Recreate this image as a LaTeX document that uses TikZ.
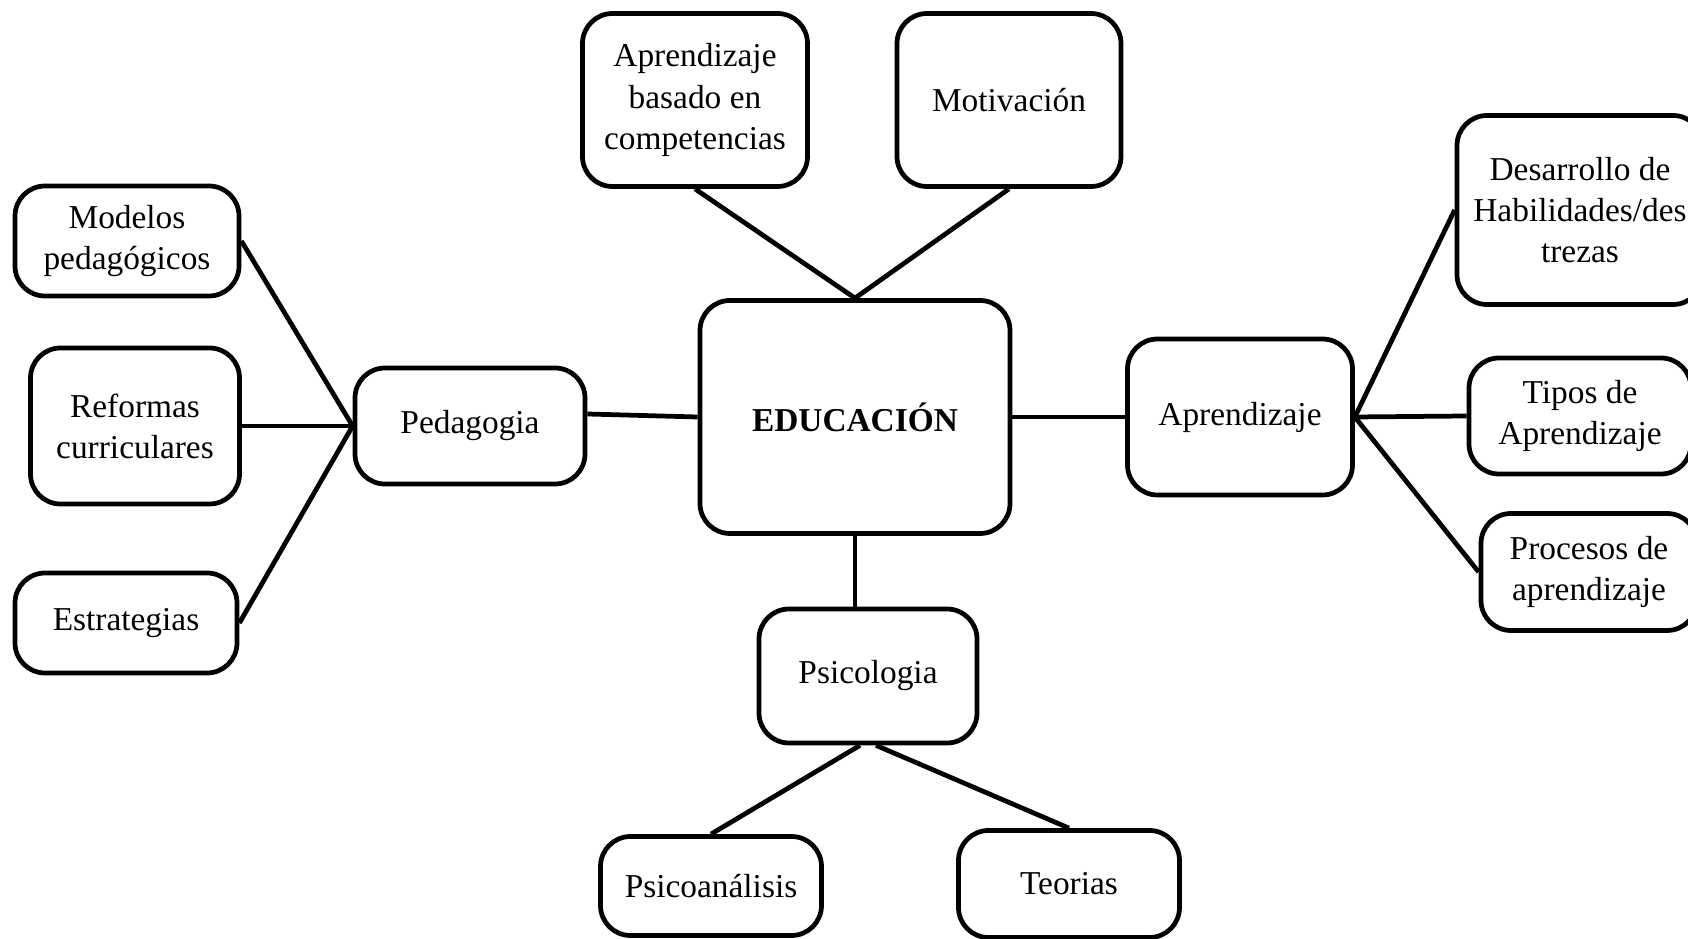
\documentclass[tikz,border=0pt]{standalone}
\usepackage{fontspec}
\setmainfont{Liberation Serif}
\usepackage{tikz}

\begin{document}
\begin{tikzpicture}[
  box/.style={draw,rectangle,rounded corners=0.3cm,line width=1.35pt,align=center,inner sep=2pt,font=\fontsize{9.5}{11.7}\selectfont},
  link/.style={line width=1.35pt}
]
\useasboundingbox (0,0) rectangle (16.88,-9.39);
\clip (0,0) rectangle (16.88,-9.39);

% Central concept
\node[box,minimum width=3.1cm,minimum height=2.33cm,font=\fontsize{9.5}{11.7}\selectfont\bfseries] (edu) at (8.55,-4.17) {EDUCACIÓN};

% Upper branches
\node[box,minimum width=2.25cm,minimum height=1.73cm] (apc) at (6.95,-1.00) {Aprendizaje\\basado en\\competencias};
\node[box,minimum width=2.24cm,minimum height=1.73cm] (mot) at (10.09,-1.00) {Motivación};

% Left branch
\node[box,minimum width=2.30cm,minimum height=1.16cm] (ped) at (4.70,-4.26) {Pedagogia};
\node[box,minimum width=2.24cm,minimum height=1.10cm] (mod) at (1.27,-2.41) {Modelos\\pedagógicos};
\node[box,minimum width=2.09cm,minimum height=1.56cm] (ref) at (1.35,-4.26) {Reformas\\curriculares};
\node[box,minimum width=2.22cm,minimum height=1.00cm] (est) at (1.26,-6.23) {Estrategias};

% Right branch
\node[box,minimum width=2.25cm,minimum height=1.56cm] (apr) at (12.40,-4.17) {Aprendizaje};
\node[box,minimum width=2.46cm,minimum height=1.89cm] (des) at (15.80,-2.10) {Desarrollo de\\Habilidades/des\\trezas};
\node[box,minimum width=2.22cm,minimum height=1.16cm] (tip) at (15.80,-4.16) {Tipos de\\Aprendizaje};
\node[box,minimum width=2.16cm,minimum height=1.17cm] (pro) at (15.89,-5.72) {Procesos de\\aprendizaje};

% Lower branch
\node[box,minimum width=2.18cm,minimum height=1.34cm] (psi) at (8.68,-6.76) {Psicologia};
\node[box,minimum width=2.21cm,minimum height=0.99cm] (psa) at (7.11,-8.86) {Psicoanálisis};
\node[box,minimum width=2.21cm,minimum height=1.07cm] (teo) at (10.69,-8.84) {Teorias};

% Connection lines
\draw[link] (apc.south) -- (edu.north);
\draw[link] (mot.south) -- (edu.north);
\draw[link] ([yshift=0.12cm]ped.east) -- (edu.west);
\draw[link] (mod.east) -- (ped.west);
\draw[link] (ref.east) -- (ped.west);
\draw[link] (est.east) -- (ped.west);
\draw[link] (edu.east) -- (apr.west);
\draw[link] (apr.east) -- (des.west);
\draw[link] (apr.east) -- (tip.west);
\draw[link] (apr.east) -- (pro.west);
\draw[link] (edu.south) -- (edu.south |- psi.north);
\draw[link] ([xshift=-0.08cm]psi.south) -- (psa.north);
\draw[link] ([xshift=0.08cm]psi.south) -- (teo.north);
\end{tikzpicture}
\end{document}
